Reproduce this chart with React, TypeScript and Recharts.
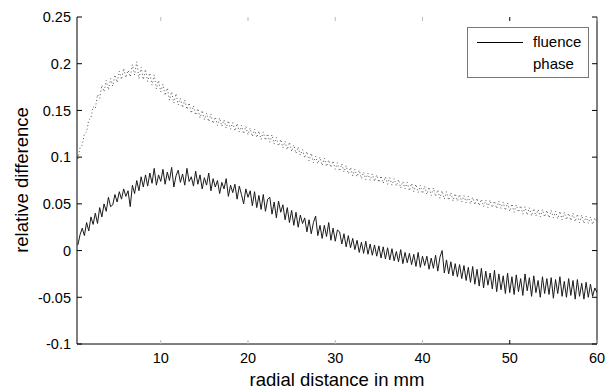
import { LineChart, Line, XAxis, YAxis, Legend } from 'recharts'

// radial position grid, mm: 0.5 to 60 in 0.25 mm steps (8 values per row = 2 mm)
const fluence = [
  0.006, 0.017, 0.024, 0.016, 0.030, 0.021, 0.036, 0.028,
  0.040, 0.029, 0.046, 0.036, 0.050, 0.042, 0.057, 0.047,
  0.049, 0.060, 0.052, 0.063, 0.055, 0.066, 0.058, 0.064,
  0.047, 0.070, 0.061, 0.075, 0.064, 0.079, 0.068, 0.081,
  0.069, 0.083, 0.072, 0.088, 0.070, 0.081, 0.074, 0.087,
  0.071, 0.084, 0.075, 0.089, 0.068, 0.080, 0.086, 0.073,
  0.082, 0.070, 0.088, 0.074, 0.079, 0.069, 0.085, 0.071,
  0.081, 0.066, 0.078, 0.070, 0.083, 0.064, 0.077, 0.068,
  0.075, 0.061, 0.073, 0.066, 0.077, 0.058, 0.070, 0.062,
  0.071, 0.055, 0.069, 0.060, 0.050, 0.066, 0.057, 0.064,
  0.048, 0.063, 0.046, 0.059, 0.044, 0.060, 0.042, 0.055,
  0.057, 0.039, 0.052, 0.035, 0.053, 0.041, 0.049, 0.033,
  0.046, 0.030, 0.043, 0.027, 0.041, 0.025, 0.038, 0.029,
  0.035, 0.020, 0.033, 0.018, 0.030, 0.037, 0.016, 0.027,
  0.013, 0.027, 0.015, 0.030, 0.011, 0.024, 0.010, 0.022,
  0.020, 0.007, 0.018, 0.004, 0.016, 0.003, 0.013, 0.001,
  0.011, -0.002, 0.009, -0.003, 0.010, -0.004, 0.007, -0.005,
  0.006, -0.006, 0.005, -0.008, 0.004, -0.009, 0.003, -0.010,
  0.002, -0.011, -0.001, -0.012, 0.001, -0.014, -0.002, -0.013,
  -0.003, -0.015, -0.004, -0.017, -0.002, -0.018, -0.006, -0.016,
  -0.006, -0.020, -0.008, -0.019, -0.005, -0.022, -0.007, 0.000,
  -0.024, -0.010, -0.025, -0.012, -0.027, -0.014, -0.028, -0.015,
  -0.030, -0.016, -0.032, -0.018, -0.034, -0.017, -0.036, -0.020,
  -0.038, -0.019, -0.040, -0.022, -0.037, -0.024, -0.041, -0.021,
  -0.044, -0.025, -0.042, -0.027, -0.046, -0.024, -0.045, -0.028,
  -0.047, -0.026, -0.044, -0.030, -0.048, -0.025, -0.043, -0.029,
  -0.049, -0.027, -0.045, -0.032, -0.050, -0.028, -0.046, -0.030,
  -0.047, -0.029, -0.051, -0.031, -0.046, -0.028, -0.049, -0.033,
  -0.050, -0.030, -0.048, -0.032, -0.052, -0.031, -0.049, -0.035,
  -0.052, -0.034, -0.050, -0.036, -0.049, -0.040, -0.045,
]

const phase = [
  0.098, 0.110, 0.113, 0.125, 0.127, 0.140, 0.142, 0.154,
  0.152, 0.167, 0.163, 0.177, 0.170, 0.182, 0.172, 0.184,
  0.176, 0.188, 0.180, 0.192, 0.183, 0.195, 0.185, 0.193,
  0.186, 0.199, 0.188, 0.202, 0.184, 0.196, 0.183, 0.194,
  0.181, 0.190, 0.177, 0.188, 0.173, 0.182, 0.170, 0.178,
  0.166, 0.174, 0.161, 0.170, 0.158, 0.168, 0.156, 0.163,
  0.153, 0.161, 0.151, 0.158, 0.147, 0.155, 0.145, 0.152,
  0.142, 0.150, 0.140, 0.147, 0.138, 0.146, 0.136, 0.143,
  0.134, 0.142, 0.133, 0.140, 0.131, 0.139, 0.130, 0.137,
  0.128, 0.136, 0.127, 0.134, 0.125, 0.133, 0.124, 0.131,
  0.122, 0.130, 0.121, 0.128, 0.119, 0.127, 0.118, 0.125,
  0.116, 0.124, 0.114, 0.121, 0.112, 0.119, 0.110, 0.117,
  0.108, 0.116, 0.106, 0.113, 0.104, 0.111, 0.102, 0.108,
  0.099, 0.106, 0.096, 0.104, 0.094, 0.101, 0.093, 0.100,
  0.091, 0.099, 0.090, 0.097, 0.089, 0.096, 0.087, 0.094,
  0.085, 0.093, 0.084, 0.091, 0.082, 0.089, 0.080, 0.087,
  0.079, 0.086, 0.077, 0.084, 0.076, 0.083, 0.075, 0.082,
  0.074, 0.081, 0.073, 0.080, 0.072, 0.079, 0.071, 0.078,
  0.070, 0.077, 0.069, 0.076, 0.067, 0.074, 0.066, 0.073,
  0.064, 0.072, 0.063, 0.071, 0.062, 0.070, 0.061, 0.069,
  0.060, 0.068, 0.059, 0.067, 0.058, 0.065, 0.056, 0.064,
  0.055, 0.063, 0.054, 0.062, 0.053, 0.061, 0.053, 0.060,
  0.052, 0.059, 0.051, 0.058, 0.050, 0.057, 0.049, 0.056,
  0.048, 0.055, 0.047, 0.054, 0.046, 0.054, 0.046, 0.053,
  0.045, 0.053, 0.045, 0.052, 0.043, 0.051, 0.042, 0.050,
  0.041, 0.049, 0.041, 0.048, 0.039, 0.047, 0.038, 0.046,
  0.037, 0.045, 0.037, 0.044, 0.036, 0.044, 0.036, 0.043,
  0.035, 0.043, 0.035, 0.042, 0.034, 0.042, 0.033, 0.041,
  0.033, 0.040, 0.032, 0.040, 0.031, 0.039, 0.030, 0.038,
  0.029, 0.037, 0.029, 0.036, 0.028, 0.035, 0.031,
]

const xTicks = [10, 20, 30, 40, 50, 60]
const yTicks = [-0.1, -0.05, 0, 0.05, 0.1, 0.15, 0.2, 0.25]

const data = fluence.map((f, i) => ({ x: 0.5 + i * 0.25, fluence: f, phase: phase[i] }))

const FONT = '"Liberation Sans", Arial, sans-serif'

const LeftTick = ({ x, y, payload }: any) => (
  <g>
    <line x1={x} x2={x + 5} y1={y} y2={y} stroke="#000" />
    <text x={x - 6} y={y} dy="0.36em" textAnchor="end" fontSize={14.5} fontFamily={FONT} fill="#000">
      {String(payload.value)}
    </text>
  </g>
)

const RightTick = ({ x, y }: any) => <line x1={x} x2={x - 5} y1={y} y2={y} stroke="#000" />

const BottomTick = ({ x, y, payload }: any) => (
  <g>
    <line x1={x} x2={x} y1={y} y2={y - 4} stroke={payload.value === 50 ? '#000' : '#bbb'} />
    <text x={x} y={y + 19} textAnchor="middle" fontSize={14.5} fontFamily={FONT} fill="#000">
      {payload.value}
    </text>
  </g>
)

const TopTick = ({ x, y, payload }: any) => (
  <line x1={x} x2={x} y1={y} y2={y + 4} stroke={payload.value === 50 ? '#000' : '#bbb'} />
)

const LegendBox = () => (
  <div style={{ width: 120, height: 49, border: '1px solid #777', background: '#fff', position: 'relative', fontFamily: FONT, fontSize: 15, color: '#000' }}>
    <div style={{ position: 'absolute', left: 9, top: 14, width: 46, borderTop: '1px solid #000' }} />
    <div style={{ position: 'absolute', left: 65, top: 5 }}>fluence</div>
    <div style={{ position: 'absolute', left: 65, top: 27 }}>phase</div>
  </div>
)

export default function App() {
  return (
    <div style={{ position: 'absolute', left: 0, top: 0, background: '#fff' }}>
      <LineChart width={613} height={389} data={data} margin={{ top: 16, right: 15, bottom: 0, left: 0 }}>
        <XAxis
          dataKey="x" type="number" domain={[0.4, 60]} ticks={xTicks} allowDataOverflow
          height={45} stroke="#000" tickLine={false} tickSize={0} tickMargin={0} tick={<BottomTick />}
        />
        <XAxis
          xAxisId="top" orientation="top" dataKey="x" type="number" domain={[0.4, 60]} ticks={xTicks}
          allowDataOverflow height={1} axisLine={false} tickLine={false} tickSize={0} tickMargin={0} tick={<TopTick />}
        />
        <YAxis
          type="number" domain={[-0.1, 0.25]} ticks={yTicks} allowDataOverflow width={77}
          stroke="#000" tickLine={false} tickSize={0} tickMargin={0} tick={<LeftTick />}
        />
        <YAxis
          yAxisId="right" orientation="right" type="number" domain={[-0.1, 0.25]} ticks={yTicks}
          allowDataOverflow width={1} stroke="#000" tickLine={false} tickSize={0} tickMargin={0} tick={<RightTick />}
        />
        <Legend
          layout="horizontal" verticalAlign="middle" align="center"
          wrapperStyle={{ top: 27, left: 467, width: 122, height: 51 }}
          content={<LegendBox />}
        />
        <Line dataKey="fluence" type="linear" stroke="#1a1a1a" strokeWidth={1} dot={false} isAnimationActive={false} />
        <Line
          dataKey="phase" xAxisId="top" yAxisId="right" type="linear" stroke="#555" strokeWidth={1}
          strokeDasharray="1 2.5" dot={false} isAnimationActive={false}
        />
        <text x={28} y={180} transform="rotate(-90 28 180)" textAnchor="middle" fontSize={18.5} fontFamily={FONT} fill="#000">
          relative difference
        </text>
        <text x={337} y={386} textAnchor="middle" fontSize={18.5} fontFamily={FONT} fill="#000">
          radial distance in mm
        </text>
      </LineChart>
    </div>
  )
}
